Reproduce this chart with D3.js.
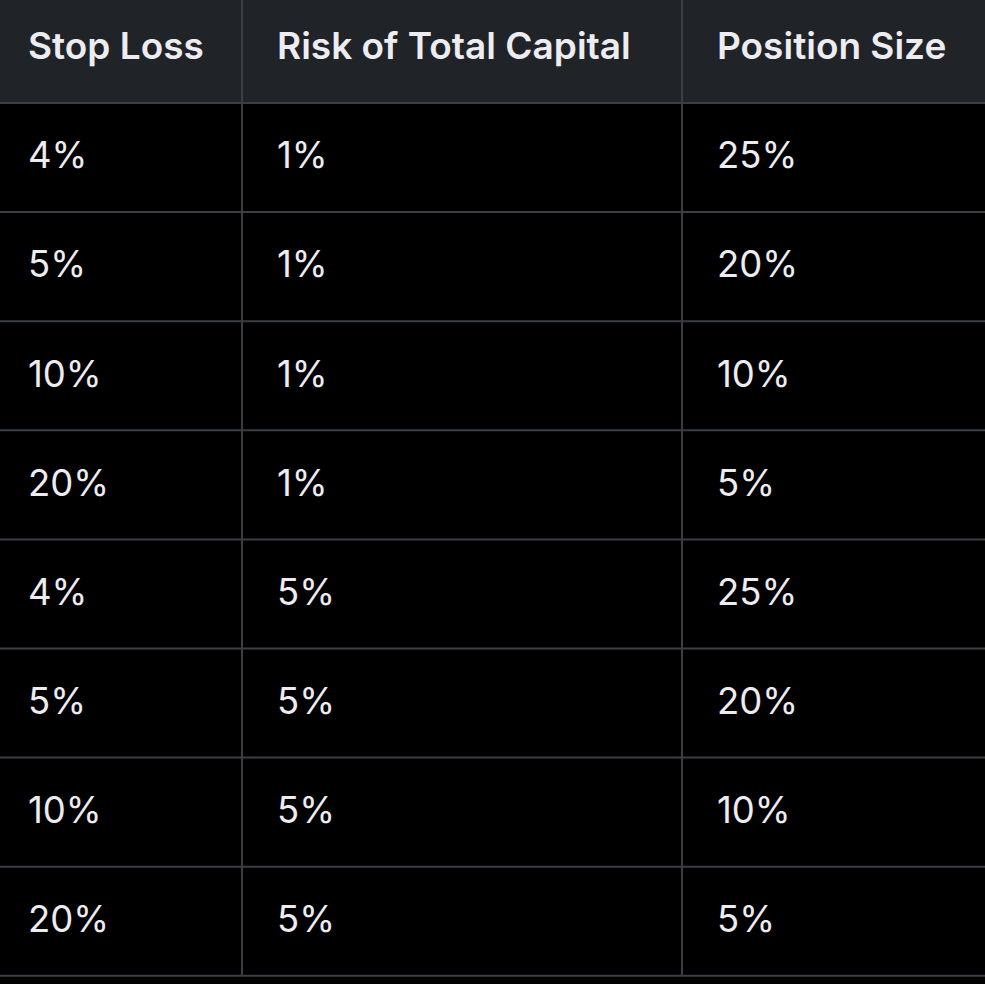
<!DOCTYPE html><html><head><meta charset="utf-8">
<script src="https://cdn.jsdelivr.net/npm/d3@7"></script>
<style>body{margin:0;background:#000}</style></head><body>
<svg id="c" width="985" height="984"></svg>
<script>
const headers = ["Stop Loss","Risk of Total Capital","Position Size"];
const stopLoss = ["4%","5%","10%","20%","4%","5%","10%","20%"];
const risk = ["1%","1%","1%","1%","5%","5%","5%","5%"];
const position = ["25%","20%","10%","5%","25%","20%","10%","5%"];
const rows = stopLoss.map((d,i)=>[d,risk[i],position[i]]);

const svg = d3.select("#c");
const colEdges = [0,242,682,985];
const headH = 103, rowH = 109.1;
const y = i => headH + i*rowH;
svg.append("rect").attr("width",985).attr("height",984).attr("fill","#000");
svg.append("rect").attr("width",985).attr("height",headH).attr("fill","#202327");
const line = "#3b3e43";
d3.range(rows.length+1).forEach(i=>{
  svg.append("line").attr("x1",0).attr("x2",985).attr("y1",y(i)).attr("y2",y(i)).attr("stroke",line).attr("stroke-width",2);
});
[242,682].forEach(x=>svg.append("line").attr("x1",x).attr("x2",x).attr("y1",0).attr("y2",y(rows.length)).attr("stroke",line).attr("stroke-width",2));
const font = "Inter, 'Noto Sans', sans-serif";
headers.forEach((h,j)=>svg.append("text").attr("x",colEdges[j]+(j==0?28:35)).attr("y",46).attr("dy","0.35em")
  .attr("fill","#ececf1").attr("font-family",font).attr("font-weight",600).attr("font-size",37).text(h));
rows.forEach((r,i)=>r.forEach((v,j)=>svg.append("text").attr("x",colEdges[j]+(j==0?28:35)).attr("y",y(i)+rowH/2-2).attr("dy","0.35em")
  .attr("fill","#ececf1").attr("font-family",font).attr("font-size",36.5).text(v)));
</script></body></html>
